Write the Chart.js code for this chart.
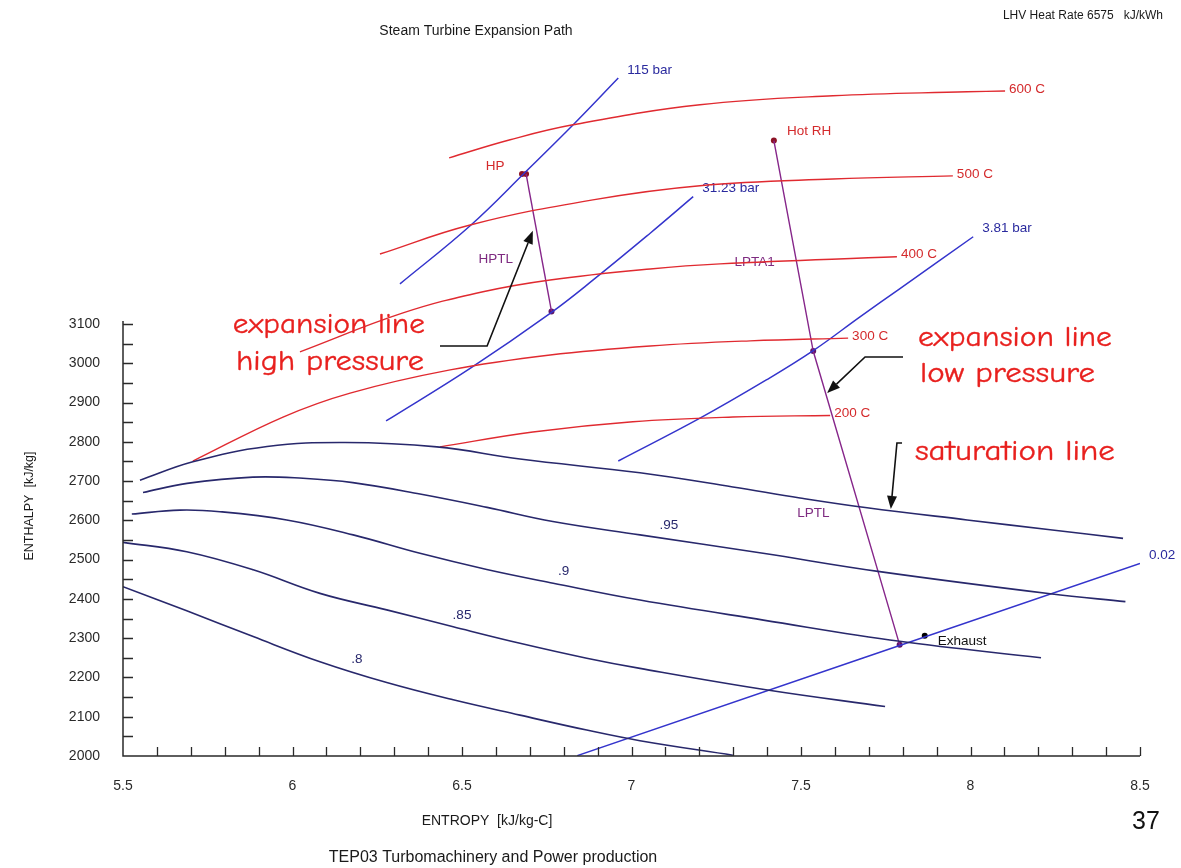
<!DOCTYPE html>
<html lang="en">
<head>
<meta charset="utf-8">
<title>Steam Turbine Expansion Path</title>
<script src="https://cdn.jsdelivr.net/npm/chart.js@4.4.1/dist/chart.umd.min.js"></script>
<style>
  html, body { margin: 0; padding: 0; background: #ffffff; }
  #wrap { position: relative; width: 1181px; height: 868px; }
  canvas { display: block; }
</style>
</head>
<body>
<div id="wrap"><canvas id="mollier" width="1181" height="868"></canvas></div>
<script>
// Tick labels of the two axes
const xTickLabels = ['5.5', '6', '6.5', '7', '7.5', '8', '8.5'];
const yTickLabels = ['2000', '2100', '2200', '2300', '2400', '2500', '2600', '2700', '2800', '2900', '3000', '3100'];

// Saturated vapour line and constant-quality lines, points are [entropy kJ/kg-C, enthalpy kJ/kg]
const satLine = [[5.550, 2702], [5.706, 2749], [5.925, 2788], [6.155, 2798], [6.426, 2787], [6.671, 2756],
                 [7.025, 2721], [7.299, 2685], [7.497, 2657], [7.695, 2632], [7.990, 2601], [8.235, 2576], [8.450, 2554]];
const quality95 = [[5.559, 2671], [5.689, 2694], [5.883, 2710], [6.031, 2707], [6.178, 2696], [6.376, 2667], [6.574, 2633],
                   [6.768, 2597], [7.025, 2563], [7.388, 2516], [7.727, 2470], [8.235, 2413], [8.457, 2393]];
const quality90 = [[5.526, 2616], [5.668, 2626], [5.786, 2622], [5.983, 2601], [6.179, 2563], [6.376, 2516], [6.573, 2475],
                   [6.769, 2440], [7.025, 2397], [7.389, 2346], [7.791, 2292], [8.208, 2250]];
const quality85 = [[5.500, 2544], [5.688, 2520], [5.884, 2474], [6.081, 2414], [6.278, 2372], [6.474, 2329], [6.671, 2287],
                   [6.868, 2249], [7.025, 2223], [7.401, 2168], [7.748, 2126]];
const quality80 = [[5.500, 2431], [5.688, 2370], [5.884, 2304], [6.081, 2240], [6.278, 2187], [6.474, 2143], [6.671, 2104],
                   [6.868, 2066], [7.025, 2039], [7.299, 2002]];
const qualityLabels = ['.95', '.9', '.85', '.8'];
const qualityLabelEntropy = [7.11, 6.80, 6.50, 6.19];

// Isotherms
const iso600 = [[6.462, 3523], [6.642, 3569], [6.827, 3607], [7.202, 3658], [7.594, 3681], [7.990, 3691], [8.102, 3693]];
const iso500 = [[6.258, 3278], [6.524, 3352], [6.886, 3416], [7.202, 3452], [7.594, 3469], [7.948, 3477]];
const iso400 = [[6.022, 3029], [6.326, 3128], [6.562, 3182], [6.760, 3212], [7.055, 3240], [7.261, 3253], [7.783, 3271]];
const iso300 = [[5.706, 2751], [5.972, 2863], [6.170, 2924], [6.465, 2983], [6.760, 3021], [7.055, 3044], [7.350, 3057],
                [7.639, 3064]];
const iso200 = [[6.435, 2787], [6.709, 2825], [7.004, 2851], [7.299, 2863], [7.586, 2867]];
const isothermLabels = ['600 C', '500 C', '400 C', '300 C', '200 C'];

// Isobars
const bar115 = [[6.317, 3202], [6.524, 3350], [6.691, 3490], [6.828, 3607], [6.961, 3726]];
const bar3123 = [[6.276, 2853], [6.524, 2987], [6.760, 3127], [6.887, 3212], [7.055, 3331], [7.182, 3424]];
const bar381 = [[6.961, 2751], [7.202, 2860], [7.399, 2958], [7.536, 3032], [7.674, 3118], [7.792, 3190], [8.008, 3322]];
const bar002 = [[6.840, 2001], [8.500, 2490]];
const isobarLabels = ['115 bar', '31.23 bar', '3.81 bar', '0.02'];

// Turbine expansion path
const hpExpansion = [[6.689, 3482], [6.764, 3132]];
const lpExpansion = [[7.420, 3567], [7.536, 3031], [7.791, 2283]];
const hpInlet = [[6.677, 3482], [6.689, 3482]];
const hotReheat = [[7.420, 3567]];
const pathNodes = [[6.764, 3132], [7.536, 3031], [7.791, 2283]];
const exhaustPoint = [[7.865, 2306]];

// Hand-written notes with their pointer arrows
const hpNote = ['expansion line', 'high pressure'];
const lpNote = ['expansion line', 'low pressure'];
const satNote = ['saturation line'];
const hpArrow = [[6.435, 3044], [6.574, 3044], [6.709, 3337]];
const lpArrow = [[7.801, 3016], [7.689, 3016], [7.577, 2924]];
const satArrow = [[7.798, 2797], [7.783, 2797], [7.765, 2629]];

const RED = '#e02a30', RED_TXT = '#d42a2c';
const BLUE = '#3434cc', BLUE_TXT = '#2a2a9e';
const NAVY = '#28286c';
const PURPLE = '#86268a', PURPLE_TXT = '#7e2a80';
const FONT = '"Liberation Sans", Arial, Helvetica, sans-serif';
const HAND = '"Comic Sans MS", "Comic Neue", "DejaVu Sans", sans-serif';
const AXIS = '#2a2a2a';

const toXY = pts => pts.map(([x, y]) => ({ x, y }));
function curve(pts, color, width, smooth) {
  return {
    data: toXY(pts), showLine: true, borderColor: color, borderWidth: width,
    pointRadius: 0, pointHoverRadius: 0, fill: false,
    tension: smooth ? 0.4 : 0, cubicInterpolationMode: 'default'
  };
}
function dots(pts, color, r) {
  return {
    data: toXY(pts), showLine: false, pointRadius: r, pointHoverRadius: r,
    pointBackgroundColor: color, pointBorderColor: color, pointBorderWidth: 0
  };
}

const qualityCurves = [quality95, quality90, quality85, quality80];
const isotherms = [iso600, iso500, iso400, iso300, iso200];
const isobars = [bar115, bar3123, bar381, bar002];

const datasets = [
  curve(satLine, NAVY, 1.6, true),
  ...qualityCurves.map(c => curve(c, NAVY, 1.6, true)),
  ...isotherms.map(c => curve(c, RED, 1.4, true)),
  ...isobars.map(c => curve(c, BLUE, 1.5, true)),
  curve(hpExpansion, PURPLE, 1.4, false),
  curve(lpExpansion, PURPLE, 1.4, false),
  dots(hpInlet, '#8c1226', 3),
  dots(hotReheat, '#8c1226', 3),
  dots(pathNodes, '#5e1466', 3),
  dots(exhaustPoint, '#000000', 3)
];

function toPx(chart, pt) {
  return [chart.scales.x.getPixelForValue(pt[0]), chart.scales.y.getPixelForValue(pt[1])];
}
function enthalpyAt(pts, s) {
  for (let i = 1; i < pts.length; i++) {
    if (s <= pts[i][0]) {
      const [s0, h0] = pts[i - 1], [s1, h1] = pts[i];
      return h0 + (h1 - h0) * (s - s0) / (s1 - s0);
    }
  }
  return pts[pts.length - 1][1];
}
function txt(ctx, str, x, y, size, color, align, baseline) {
  ctx.save();
  ctx.font = size + 'px ' + FONT;
  ctx.fillStyle = color;
  ctx.textAlign = align || 'left';
  ctx.textBaseline = baseline || 'middle';
  ctx.fillText(str, x, y);
  ctx.restore();
}
function handText(ctx, str, x, y, width) {
  ctx.save();
  ctx.font = '29px ' + HAND;
  ctx.fillStyle = '#e8201e';
  ctx.strokeStyle = '#e8201e';
  ctx.lineWidth = 0.35;
  ctx.textAlign = 'left';
  ctx.textBaseline = 'middle';
  const w = ctx.measureText(str).width;
  ctx.translate(x, y);
  ctx.scale(width / w, 1);
  ctx.fillText(str, 0, 0);
  ctx.strokeText(str, 0, 0);
  ctx.restore();
}
function arrow(ctx, pts) {
  ctx.save();
  ctx.strokeStyle = '#111';
  ctx.fillStyle = '#111';
  ctx.lineWidth = 1.6;
  const n = pts.length;
  const [x1, y1] = pts[n - 2], [x2, y2] = pts[n - 1];
  const ang = Math.atan2(y2 - y1, x2 - x1);
  const L = 13, W = 5;
  const bx = x2 - L * Math.cos(ang), by = y2 - L * Math.sin(ang);
  ctx.beginPath();
  ctx.moveTo(pts[0][0], pts[0][1]);
  for (let i = 1; i < n - 1; i++) ctx.lineTo(pts[i][0], pts[i][1]);
  ctx.lineTo(bx, by);
  ctx.stroke();
  ctx.beginPath();
  ctx.moveTo(x2, y2);
  ctx.lineTo(bx + W * Math.sin(ang), by - W * Math.cos(ang));
  ctx.lineTo(bx - W * Math.sin(ang), by + W * Math.cos(ang));
  ctx.closePath();
  ctx.fill();
  ctx.restore();
}

const mollierPlugin = {
  id: 'mollier',
  beforeDatasetsDraw(chart) {
    const ctx = chart.ctx;
    // isotherm labels at the end of each line
    isotherms.forEach((c, i) => {
      const [x, y] = toPx(chart, c[c.length - 1]);
      txt(ctx, isothermLabels[i], x + 4, y - 2, 13.5, RED_TXT);
    });
    // isobar labels
    isobars.forEach((c, i) => {
      const [x, y] = toPx(chart, c[c.length - 1]);
      txt(ctx, isobarLabels[i], x + 9, y - 8, 13.5, BLUE_TXT);
    });
    // dryness fraction labels just above their lines
    qualityCurves.forEach((c, i) => {
      const s = qualityLabelEntropy[i];
      const [x, y] = toPx(chart, [s, enthalpyAt(c, s)]);
      txt(ctx, qualityLabels[i], x, y - 13.5, 13.5, NAVY, 'center');
    });
    // expansion path labels
    let [x, y] = toPx(chart, hpInlet[0]);
    txt(ctx, 'HP', x - 27, y - 8, 13.5, RED_TXT, 'center');
    [x, y] = toPx(chart, hotReheat[0]);
    txt(ctx, 'Hot RH', x + 13, y - 9, 13.5, RED_TXT);
    [x, y] = toPx(chart, exhaustPoint[0]);
    txt(ctx, 'Exhaust', x + 13, y + 5, 13.5, '#111');
    const mid = (a, b) => [(a[0] + b[0]) / 2, (a[1] + b[1]) / 2];
    [x, y] = toPx(chart, mid(hpExpansion[0], hpExpansion[1]));
    txt(ctx, 'HPTL', x - 43, y + 17, 13.5, PURPLE_TXT, 'center');
    [x, y] = toPx(chart, mid(lpExpansion[0], lpExpansion[1]));
    txt(ctx, 'LPTA1', x - 39, y + 16, 13.5, PURPLE_TXT, 'center');
    [x, y] = toPx(chart, mid(lpExpansion[1], lpExpansion[2]));
    txt(ctx, 'LPTL', x - 43, y + 15, 13.5, PURPLE_TXT, 'center');

    // hand-written notes
    [x, y] = toPx(chart, [5.824, 3098]);
    handText(ctx, hpNote[0], x, y, 192);
    [x, y] = toPx(chart, [5.833, 3003]);
    handText(ctx, hpNote[1], x, y, 188);
    [x, y] = toPx(chart, [7.845, 3064]);
    handText(ctx, lpNote[0], x, y, 194);
    [x, y] = toPx(chart, [7.851, 2973]);
    handText(ctx, lpNote[1], x, y, 175);
    [x, y] = toPx(chart, [7.836, 2774]);
    handText(ctx, satNote[0], x, y, 200);
  },
  afterDatasetsDraw(chart) {
    const ctx = chart.ctx;
    const xs = chart.scales.x, ys = chart.scales.y;
    const x0 = xs.getPixelForValue(5.5), x1 = xs.getPixelForValue(8.5);
    const y0 = ys.getPixelForValue(2000), yTop = ys.getPixelForValue(3100);
    ctx.save();
    ctx.strokeStyle = AXIS;
    ctx.lineWidth = 1.5;
    ctx.beginPath();
    ctx.moveTo(x0, yTop - 3);
    ctx.lineTo(x0, y0);
    ctx.lineTo(x1, y0);
    ctx.stroke();
    ctx.lineWidth = 1.3;
    ctx.beginPath();
    ys.ticks.forEach(t => {
      if (t.value <= 2000) return;
      const y = Math.round(ys.getPixelForValue(t.value)) + 0.5;
      ctx.moveTo(x0, y);
      ctx.lineTo(x0 + 10, y);
    });
    xs.ticks.forEach(t => {
      if (t.value <= 5.5) return;
      const x = Math.round(xs.getPixelForValue(t.value)) + 0.5;
      ctx.moveTo(x, y0);
      ctx.lineTo(x, y0 - 9);
    });
    ctx.stroke();
    ctx.restore();

    arrow(ctx, hpArrow.map(p => toPx(chart, p)));
    arrow(ctx, lpArrow.map(p => toPx(chart, p)));
    arrow(ctx, satArrow.map(p => toPx(chart, p)));
  },
  afterDraw(chart) {
    const ctx = chart.ctx;
    txt(ctx, 'Steam Turbine Expansion Path', 476, 31, 14, '#1a1a1a', 'center');
    txt(ctx, 'LHV Heat Rate 6575   kJ/kWh', 1163, 16, 12, '#1a1a1a', 'right');
    txt(ctx, 'ENTROPY  [kJ/kg-C]', 487, 821, 14, '#1a1a1a', 'center');
    txt(ctx, 'TEP03 Turbomachinery and Power production', 493, 858, 16, '#1a1a1a', 'center');
    txt(ctx, '37', 1146, 822, 25, '#111', 'center');
    ctx.save();
    ctx.translate(30, 506);
    ctx.rotate(-Math.PI / 2);
    txt(ctx, 'ENTHALPY  [kJ/kg]', 0, 0, 12.5, '#1a1a1a', 'center');
    ctx.restore();
  }
};

const xTickValues = [];
for (let i = 0; i <= 30; i++) xTickValues.push(Math.round((5.5 + i * 0.1) * 10) / 10);
const yTickValues = [];
yTickLabels.map(Number).forEach((v, i, arr) => {
  yTickValues.push(v);
  if (i < arr.length - 1) yTickValues.push(v + 50);
});

new Chart(document.getElementById('mollier'), {
  type: 'scatter',
  data: { datasets },
  options: {
    responsive: false,
    animation: false,
    devicePixelRatio: 1,
    layout: { padding: { top: 49, right: 41, bottom: 0, left: 0 } },
    plugins: { legend: { display: false }, tooltip: { enabled: false }, title: { display: false } },
    events: [],
    scales: {
      x: {
        type: 'linear', position: 'bottom', min: 5.5, max: 8.5,
        afterBuildTicks: s => { s.ticks = xTickValues.map(v => ({ value: v })); },
        afterFit: s => { s.height = 112; },
        grid: { display: false, drawTicks: false },
        border: { display: false },
        ticks: {
          autoSkip: false, maxRotation: 0, minRotation: 0, padding: 22, color: '#2a2a2a',
          font: { family: FONT, size: 14 },
          callback: v => {
            const t = String(+Number(v).toFixed(1));
            return xTickLabels.includes(t) ? t : '';
          }
        }
      },
      y: {
        type: 'linear', position: 'left', min: 2000, max: 3800,
        afterBuildTicks: s => { s.ticks = yTickValues.map(v => ({ value: v })); },
        afterFit: s => { s.width = 123; },
        grid: { display: false, drawTicks: false },
        border: { display: false },
        ticks: {
          autoSkip: false, padding: 23, color: '#2a2a2a',
          font: { family: FONT, size: 14 },
          callback: v => (yTickLabels.includes(String(v)) ? String(v) : '')
        }
      }
    }
  },
  plugins: [mollierPlugin]
});
</script>
</body>
</html>
